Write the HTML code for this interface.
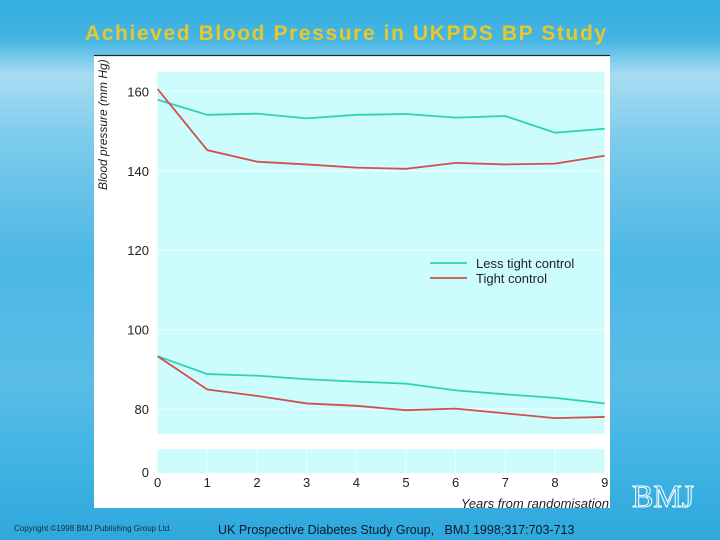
<!DOCTYPE html>
<html><head><meta charset="utf-8"><style>
html,body{margin:0;padding:0}
body{width:720px;height:540px;position:relative;overflow:hidden;font-family:"Liberation Sans",sans-serif;
background:linear-gradient(180deg,#33ade0 0px,#46b6e3 40px,#a9dcf1 75px,#7ccbec 140px,#4cb7e4 260px,#59bde6 380px,#3fb2e2 470px,#2ea8dc 540px);}
#title{position:absolute;left:85px;top:22px;font-size:21px;font-weight:bold;color:#e6c72e;white-space:nowrap;letter-spacing:1.6px}
#chart{position:absolute;left:0;top:0}
#copy{position:absolute;left:14px;top:524px;font-size:8px;color:#1a2a3a;white-space:nowrap}
#cite{position:absolute;left:218px;top:523px;font-size:12.5px;color:#0d1b2e;white-space:nowrap}
#bmj{position:absolute;left:632px;top:478px;font-size:32px;font-family:"Liberation Serif",serif;color:transparent;-webkit-text-stroke:1px #fff}
</style></head><body>
<div id="title">Achieved Blood Pressure in UKPDS BP Study</div>
<svg id="chart" width="720" height="540"></svg>
<div id="copy">Copyright ©1998 BMJ Publishing Group Ltd.</div>
<div id="cite">UK Prospective Diabetes Study Group,&nbsp;&nbsp; BMJ 1998;317:703-713</div>
<div id="bmj">BMJ</div>
<script>
const years=[0,1,2,3,4,5,6,7,8,9];
const lessSys=[157.9,154.1,154.4,153.2,154.1,154.3,153.4,153.8,149.6,150.6];
const tightSys=[160.6,145.2,142.3,141.6,140.8,140.5,142,141.6,141.8,143.8];
const lessDia=[93.3,88.8,88.4,87.5,86.9,86.4,84.7,83.7,82.8,81.4];
const tightDia=[93.3,84.9,83.3,81.4,80.8,79.7,80.1,78.9,77.7,78];
const yTicks=[80,100,120,140,160];
const NS='http://www.w3.org/2000/svg';
const svg=document.getElementById('chart');
function xs(v){return 157.6+v*(604.7-157.6)/9;}
function ys(v){return 409-(v-80)*3.97;}
function mk(t,a,p){const e=document.createElementNS(NS,t);for(const k in a)e.setAttribute(k,a[k]);(p||svg).appendChild(e);return e;}
const box=mk('rect',{x:94,y:55,width:516,height:453,fill:'#fff'});

mk('line',{x1:94,y1:55.5,x2:610,y2:55.5,stroke:'#223',"stroke-width":1.2});
const up=mk('rect',{x:157.6,y:71.7,width:447.1,height:362.3,fill:'#ccfcfc'});

const lo=mk('rect',{x:157.6,y:449,width:447.1,height:24,fill:'#ccfcfc'});

yTicks.forEach(t=>{
  const g=mk('line',{x1:157.6,x2:604.7,y1:ys(t),y2:ys(t),stroke:'#eaffff',"stroke-width":1.2});
  
  const tx=mk('text',{x:149,y:ys(t)+5,"text-anchor":"end","font-size":13,fill:'#222'});
  tx.textContent=t;
  
});
const z=mk('text',{x:149,y:477,"text-anchor":"end","font-size":13,fill:'#222'});z.textContent='0';

years.forEach(v=>{
  if(v>0){const g=mk('line',{x1:xs(v),x2:xs(v),y1:449,y2:473,stroke:'#eaffff',"stroke-width":1});}
  const tx=mk('text',{x:xs(v),y:487,"text-anchor":"middle","font-size":13,fill:'#222'});
  tx.textContent=v;
  
});
const xt=mk('text',{x:609,y:508,"text-anchor":"end","font-size":13,"font-style":"italic",fill:'#222'});
xt.textContent='Years from randomisation';

const yt=mk('text',{x:0,y:0,"font-size":12,"font-style":"italic",fill:'#222',transform:'translate(107,190) rotate(-90)'});
yt.textContent='Blood pressure (mm Hg)';

function line(arr,col,name){
  const p=mk('polyline',{points:arr.map((v,i)=>xs(years[i])+','+ys(v)).join(' '),fill:'none',stroke:col,"stroke-width":1.8});
  
}
line(lessSys,'#2fd3b3','line-less-tight-systolic');
line(tightSys,'#d2504c','line-tight-systolic');
line(lessDia,'#2fd3b3','line-less-tight-diastolic');
line(tightDia,'#d2504c','line-tight-diastolic');
[['Less tight control','#2fd3b3',263],['Tight control','#d2504c',278]].forEach(l=>{
  mk('line',{x1:430,x2:467,y1:l[2],y2:l[2],stroke:l[1],"stroke-width":1.8});
  const t=mk('text',{x:476,y:l[2]+5,"font-size":13,fill:'#222'});t.textContent=l[0];
  
});
</script>
</body></html>
